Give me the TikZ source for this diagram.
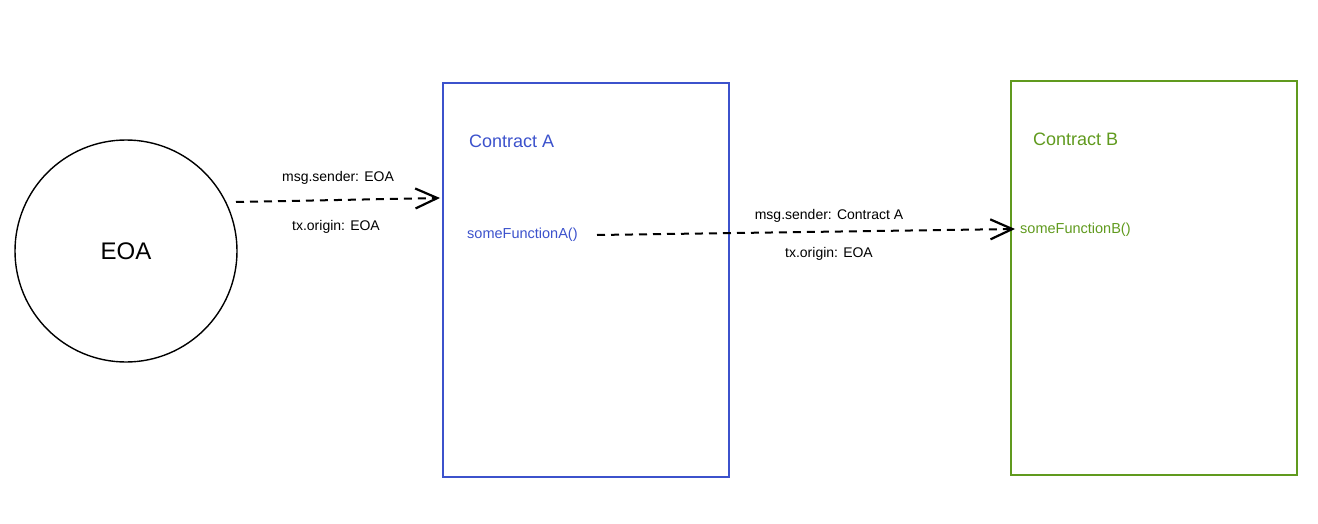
\documentclass[tikz,border=0pt]{standalone}
\usepackage{fontspec}
\setmainfont{Liberation Sans}
\usetikzlibrary{arrows.meta}
\definecolor{cblue}{RGB}{60,82,204}
\definecolor{cgreen}{RGB}{96,154,30}
\begin{document}
\begin{tikzpicture}[x=1pt,y=-1pt,
  lbl/.style={font=\fontsize{14}{16}\selectfont, inner sep=0pt},
  title/.style={font=\fontsize{18}{20}\selectfont, inner sep=0pt, anchor=west},
  fn/.style={font=\fontsize{14.5}{16}\selectfont, inner sep=0pt, anchor=west},
  call/.style={draw=black, line width=2pt, dash pattern=on 8pt off 6pt, -{Straight Barb[length=22pt,width=20pt,line width=2.2pt]}},
  contract/.style={draw=#1, line width=1.4pt, minimum width=286pt, minimum height=394pt, inner sep=0pt}]
\useasboundingbox (0,0) rectangle (1318,524);
\node[draw=black, line width=1.4pt, circle, minimum size=222pt, inner sep=0pt, font=\fontsize{24}{28}\selectfont] (eoa) at (126,251) {EOA};
\node[contract=cblue] (boxA) at (586,280) {};
\node[contract=cgreen] (boxB) at (1154,278) {};
\node[title, text=cblue] (titleA) at (469,141) {Contract A};
\node[title, text=cgreen] (titleB) at (1033,139) {Contract B};
\node[fn, text=cblue] (fnA) at (467,235) {someFunctionA()};
\node[fn, text=cgreen] (fnB) at (1020,230) {someFunctionB()};
\coordinate (s1) at (236,202);
\coordinate (e1) at (440,198);
\coordinate (s2) at (597,235);
\coordinate (e2) at (1015,229);
\draw[call] (s1) -- (e1);
\draw[call] (s2) -- (e2);
\node[lbl] (m1) at (338,178) {msg.sender: EOA};
\node[lbl] (t1) at (336,227) {tx.origin: EOA};
\node[lbl] (m2) at (829,216) {msg.sender: Contract A};
\node[lbl] (t2) at (829,254) {tx.origin: EOA};
\end{tikzpicture}
\end{document}
